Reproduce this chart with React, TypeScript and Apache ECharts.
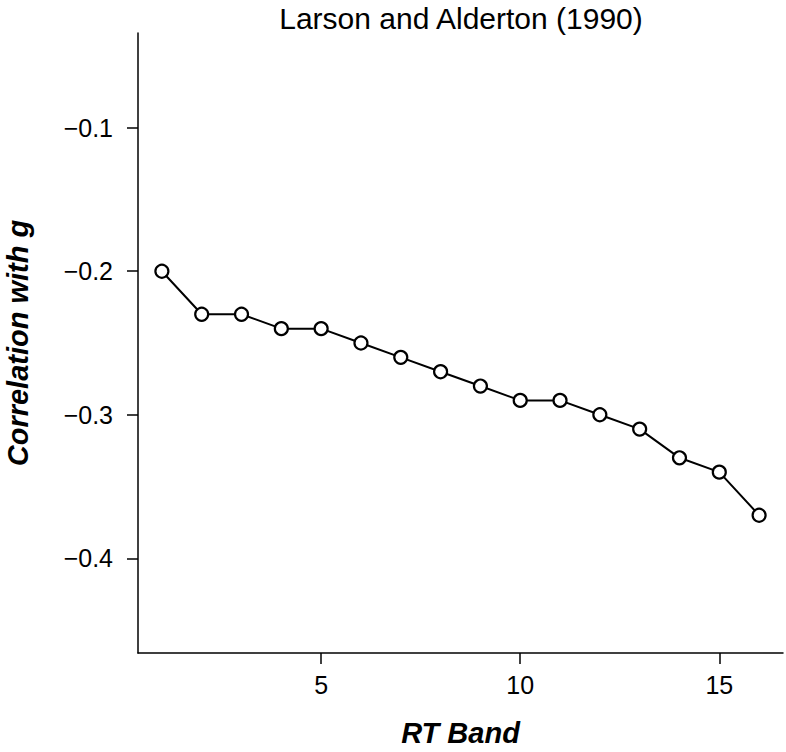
import React, { useEffect, useRef } from "react";
import * as echarts from "echarts";

const TITLE = "Larson and Alderton (1990)";
const X_NAME = "RT Band";
const Y_NAME = "Correlation with g";
const rtBands = [1, 2, 3, 4, 5, 6, 7, 8, 9, 10, 11, 12, 13, 14, 15, 16];
const correlations = [
  -0.2, -0.23, -0.23, -0.24, -0.24, -0.25, -0.26, -0.27, -0.28, -0.29, -0.29,
  -0.3, -0.31, -0.33, -0.34, -0.37,
];
const xTicks = [5, 10, 15];
const yTicks = [-0.4, -0.3, -0.2, -0.1];
const xRange = [0.4, 16.6];
const yRange = [-0.466, -0.034];

const FONT = "'Liberation Sans', Arial, Helvetica, sans-serif";

export default function App() {
  const ref = useRef<HTMLDivElement>(null);
  useEffect(() => {
    document.body.style.margin = "0";
    const chart = echarts.init(ref.current!, null, { renderer: "svg" });
    const axisCommon = {
      axisLine: { show: true, onZero: false, lineStyle: { color: "#000", width: 1.5 } },
      axisTick: { show: true, inside: false, length: 11, lineStyle: { color: "#000", width: 1.5 } },
      splitLine: { show: false },
      nameTextStyle: {
        fontFamily: FONT,
        fontSize: 29,
        fontWeight: "bold",
        fontStyle: "italic",
        color: "#000",
      },
    };
    chart.setOption({
      animation: false,
      backgroundColor: "#fff",
      title: {
        text: TITLE,
        left: 456,
        top: -2,
        textAlign: "center",
        textStyle: { fontFamily: FONT, fontSize: 30, fontWeight: "normal", color: "#000" },
      },
      grid: { left: 138, right: 3, top: 33, bottom: 99, containLabel: false, outerBoundsMode: "none" },
      xAxis: {
        ...axisCommon,
        type: "value",
        min: xRange[0],
        max: xRange[1],
        name: X_NAME,
        nameLocation: "middle",
        nameGap: 65,
        axisTick: { ...axisCommon.axisTick, customValues: xTicks },
        axisLabel: {
          customValues: xTicks,
          margin: 19,
          fontFamily: FONT,
          fontSize: 25,
          color: "#000",
        },
      },
      yAxis: {
        ...axisCommon,
        type: "value",
        min: yRange[0],
        max: yRange[1],
        name: Y_NAME,
        nameLocation: "middle",
        nameGap: 106,
        nameRotate: 90,
        axisTick: { ...axisCommon.axisTick, customValues: yTicks },
        axisLabel: {
          customValues: yTicks,
          margin: 25,
          fontFamily: FONT,
          fontSize: 25,
          color: "#000",
          formatter: (v: number) => (v < 0 ? "\u2212" + Math.abs(v).toFixed(1) : v.toFixed(1)),
        },
      },
      series: [
        {
          type: "line",
          data: rtBands.map((b, i) => [b, correlations[i]]),
          symbol: "circle",
          symbolSize: 13,
          showAllSymbol: true,
          lineStyle: { color: "#000", width: 2 },
          itemStyle: { color: "#fff", borderColor: "#000", borderWidth: 2.2 },
        },
      ],
    });
    return () => chart.dispose();
  }, []);
  return <div ref={ref} style={{ width: 786, height: 752 }} />;
}
